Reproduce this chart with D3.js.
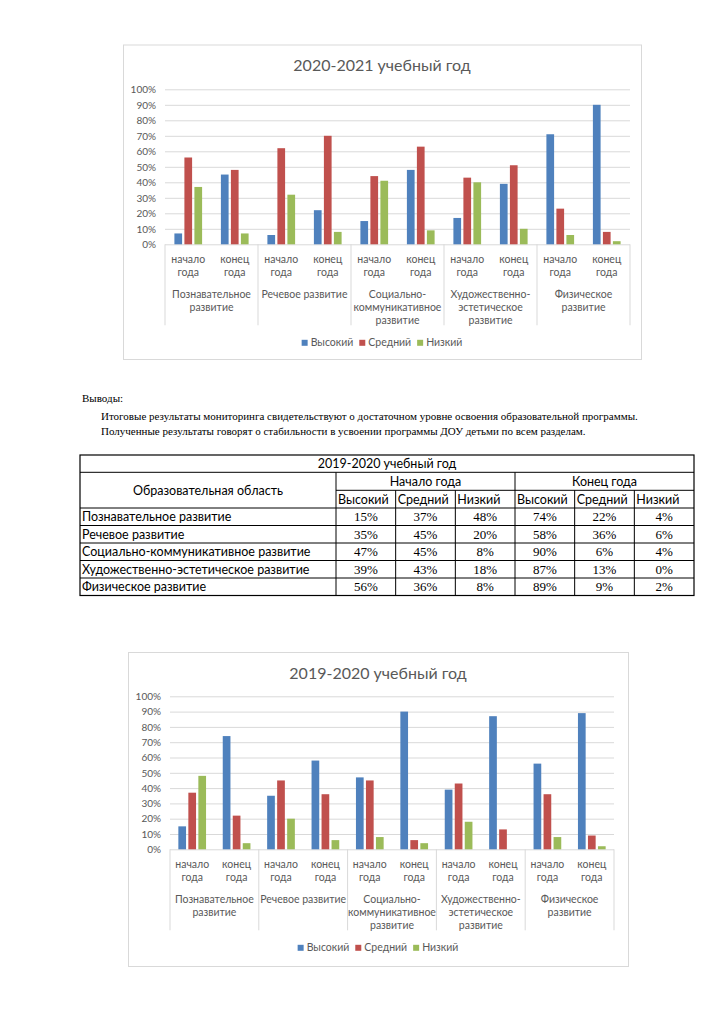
<!DOCTYPE html>
<html><head><meta charset="utf-8">
<script src="https://cdn.jsdelivr.net/npm/d3@7"></script>
<style>
html,body{margin:0;padding:0;background:#fff;}
svg{display:block;}
</style></head>
<body>
<svg id="page" width="724" height="1024"></svg>
<script>
// ---------- DATA ----------
const groups = ["Познавательное развитие","Речевое развитие","Социально-коммуникативное развитие","Художественно-эстетическое развитие","Физическое развитие"];
const groupLabelLines = [["Познавательное","развитие"],["Речевое развитие"],["Социально-","коммуникативное","развитие"],["Художественно-","эстетическое","развитие"],["Физическое","развитие"]];
const periods = ["начало года","конец года"];
const periodLabelLines = [["начало","года"],["конец","года"]];
const series = ["Высокий","Средний","Низкий"];
const yTicks = [0,10,20,30,40,50,60,70,80,90,100];

// 2020-2021 (order: group x period)
const y2021High = [7,45, 6,22, 15,48, 17,39, 71,90];
const y2021Mid  = [56,48, 62,70, 44,63, 43,51, 23,8];
const y2021Low  = [37,7, 32,8, 41,9, 40,10, 6,2];
// 2019-2020
const y2020High = [15,74, 35,58, 47,90, 39,87, 56,89];
const y2020Mid  = [37,22, 45,36, 45,6, 43,13, 36,9];
const y2020Low  = [48,4, 20,6, 8,4, 18,0, 8,2];

const tableTitle = "2019-2020 учебный год";
const tableHeadArea = "Образовательная область";
const tableHeadPeriods = ["Начало года","Конец года"];
const conclusionsTitle = "Выводы:";
const conclusions = ["Итоговые результаты мониторинга свидетельствуют о достаточном уровне освоения образовательной программы.",
 "Полученные результаты говорят о стабильности в усвоении программы ДОУ детьми по всем разделам."];

const colors = ["#4F81BD","#C0504D","#9BBB59"];

// ---------- DRAW ----------
const svg = d3.select("#page");
svg.append("rect").attr("width",724).attr("height",1024).attr("fill","#fff");
const FONT = "Lato, 'Noto Sans', sans-serif";
const TXT = "#595959";
const GRID = "#D9D9D9";

function drawChart(cfg){
  const g = svg.append("g");
  g.append("rect").attr("x",cfg.box[0]+0.5).attr("y",cfg.box[1]+0.5)
    .attr("width",cfg.box[2]-cfg.box[0]).attr("height",cfg.box[3]-cfg.box[1])
    .attr("fill","#fff").attr("stroke","#D9D9D9").attr("stroke-width",1);
  const cx = (cfg.box[0]+cfg.box[2])/2;
  g.append("text").attr("x",cx).attr("y",cfg.box[1]+21+5.6)
    .attr("text-anchor","middle").attr("font-family",FONT).attr("font-size",16)
    .attr("fill",TXT).text(cfg.title);

  const y = d3.scaleLinear().domain([0,100]).range([cfg.axisY, cfg.topY]);
  const xG = d3.scaleBand().domain(groups).range([cfg.plotL, cfg.plotR]);
  const xP = d3.scaleBand().domain(periods).range([0, xG.bandwidth()]);
  const pi = 0.23, step = 10;
  const po = Math.max(0,(xP.bandwidth()/step - (3-pi))/2);
  const xS = d3.scaleBand().domain(series).range([0, xP.bandwidth()]).paddingInner(pi).paddingOuter(po);

  const yAxis = d3.axisLeft(y).tickValues(yTicks).tickFormat(d=>d+"%")
    .tickSize(-(cfg.plotR-cfg.plotL)).tickPadding(9);
  const ax = g.append("g").attr("transform",`translate(${cfg.plotL},0)`).call(yAxis);
  ax.select(".domain").remove();
  ax.selectAll("line").attr("stroke",GRID).attr("stroke-width",1);
  ax.selectAll("text").attr("font-family",FONT).attr("font-size",10).attr("fill",TXT);

  const vals = [cfg.high, cfg.mid, cfg.low];
  const rows = [];
  groups.forEach((gr,gi)=>periods.forEach((p,pi2)=>series.forEach((s,si)=>{
    rows.push({gr,p,s,si,v:vals[si][gi*2+pi2]});
  })));
  g.append("g").selectAll("rect").data(rows).join("rect")
    .attr("x",d=>xG(d.gr)+xP(d.p)+xS(d.s))
    .attr("y",d=>y(d.v))
    .attr("width",xS.bandwidth())
    .attr("height",d=>y(0)-y(d.v))
    .attr("fill",d=>colors[d.si]);

  // category separators
  const seps = groups.map(gr=>xG(gr)).concat([cfg.plotR]);
  g.append("g").selectAll("line").data(seps).join("line")
    .attr("x1",d=>d).attr("x2",d=>d).attr("y1",cfg.axisY).attr("y2",cfg.axisY+81)
    .attr("stroke",GRID).attr("stroke-width",1);

  // period labels
  const fs = 10.5;
  groups.forEach((gr,gi)=>{
    periods.forEach((p,pi2)=>{
      const t = g.append("text").attr("text-anchor","middle").attr("font-family",FONT)
        .attr("font-size",fs).attr("fill",TXT);
      periodLabelLines[pi2].forEach((ln,li)=>{
        t.append("tspan").attr("x",xG(gr)+xP(p)+xP.bandwidth()/2)
          .attr("y",cfg.axisY+14.7+li*13.3+fs*0.35).text(ln);
      });
    });
    const t2 = g.append("text").attr("text-anchor","middle").attr("font-family",FONT)
      .attr("font-size",fs).attr("fill",TXT);
    groupLabelLines[gi].forEach((ln,li)=>{
      t2.append("tspan").attr("x",xG(gr)+xG.bandwidth()/2)
        .attr("y",cfg.axisY+49.7+li*13.2+fs*0.35).text(ln);
    });
  });

  // legend
  const lg = g.append("g");
  let lx = 0;
  const items = series.map((s,i)=>{
    const it = lg.append("g");
    it.append("rect").attr("x",0).attr("y",-3).attr("width",6).attr("height",6).attr("fill",colors[i]);
    const tx = it.append("text").attr("x",9).attr("y",fs*0.35).attr("font-family",FONT)
      .attr("font-size",fs).attr("fill",TXT).text(s);
    const w = 9 + tx.node().getComputedTextLength();
    it.attr("transform",`translate(${lx},0)`);
    lx += w + 6;
    return it;
  });
  const totalW = lx - 6;
  lg.attr("transform",`translate(${cx - totalW/2},${cfg.axisY+98.5})`);
}

drawChart({box:[123,44.5,641,359], title:"2020-2021 учебный год", plotL:165, plotR:630, axisY:244.3, topY:89.3,
  high:y2021High, mid:y2021Mid, low:y2021Low});
drawChart({box:[128,652,628,966], title:"2019-2020 учебный год", plotL:170, plotR:614, axisY:849.3, topY:696.3,
  high:y2020High, mid:y2020Mid, low:y2020Low});

// conclusions text
const SERIF = "'Liberation Serif','Times New Roman',serif";
svg.append("text").attr("x",82).attr("y",401.5).attr("font-family",SERIF).attr("font-size",11)
  .attr("fill","#000").text(conclusionsTitle);
conclusions.forEach((c,i)=>{
  svg.append("text").attr("x",101).attr("y",419.5+i*15.7).attr("font-family",SERIF).attr("font-size",11)
    .attr("fill","#000").text(c);
});

// table
const tb = svg.append("g");
const TL=80, TR=694, TC=336, T0=455, T1=472.3, T2=490.3, T3=508, TB=595.5;
const xc = d3.scaleBand().domain(d3.range(6)).range([TC,TR]);
const yr = d3.scaleBand().domain(groups).range([T3,TB]);
const line=(x1,y1,x2,y2)=>tb.append("line").attr("x1",x1).attr("y1",y1).attr("x2",x2).attr("y2",y2)
  .attr("stroke","#000").attr("stroke-width",1);
tb.append("rect").attr("x",TL).attr("y",T0).attr("width",TR-TL).attr("height",TB-T0)
  .attr("fill","none").attr("stroke","#000").attr("stroke-width",1.2);
line(TL,T1,TR,T1);
line(TC,T2,TR,T2);
line(TL,T3,TR,T3);
groups.forEach(gr=>{ if(yr(gr)>T3) line(TL,yr(gr),TR,yr(gr)); });
line(TC,T1,TC,TB);
d3.range(1,6).forEach(i=>line(xc(i),i===3?T1:T2,xc(i),TB));
const TFS=12.5;
const ttxt=(x,y,s,anchor,font,size)=>tb.append("text").attr("x",x).attr("y",y).attr("text-anchor",anchor||"middle")
  .attr("font-family",font||FONT).attr("font-size",size||TFS).attr("fill","#000").text(s);
ttxt((TL+TR)/2,(T0+T1)/2+TFS*0.35,tableTitle);
ttxt((TL+TC)/2,(T1+T3)/2+TFS*0.35,tableHeadArea);
tableHeadPeriods.forEach((p,i)=>ttxt((xc(i*3)+xc(i*3+2)+xc.bandwidth())/2,(T1+T2)/2+TFS*0.35,p));
d3.range(6).forEach(i=>ttxt(xc(i)+2,(T2+T3)/2+TFS*0.35,series[i%3],"start"));
const tvals=[y2020High,y2020Mid,y2020Low];
groups.forEach((gr,gi)=>{
  const cy = yr(gr)+yr.bandwidth()/2;
  ttxt(TL+2,cy+TFS*0.35,gr,"start");
  d3.range(6).forEach(i=>{
    const per = Math.floor(i/3), si=i%3;
    ttxt(xc(i)+xc.bandwidth()/2, cy+4.5, tvals[si][gi*2+per]+"%","middle",SERIF,13);
  });
});
</script>
</body></html>
